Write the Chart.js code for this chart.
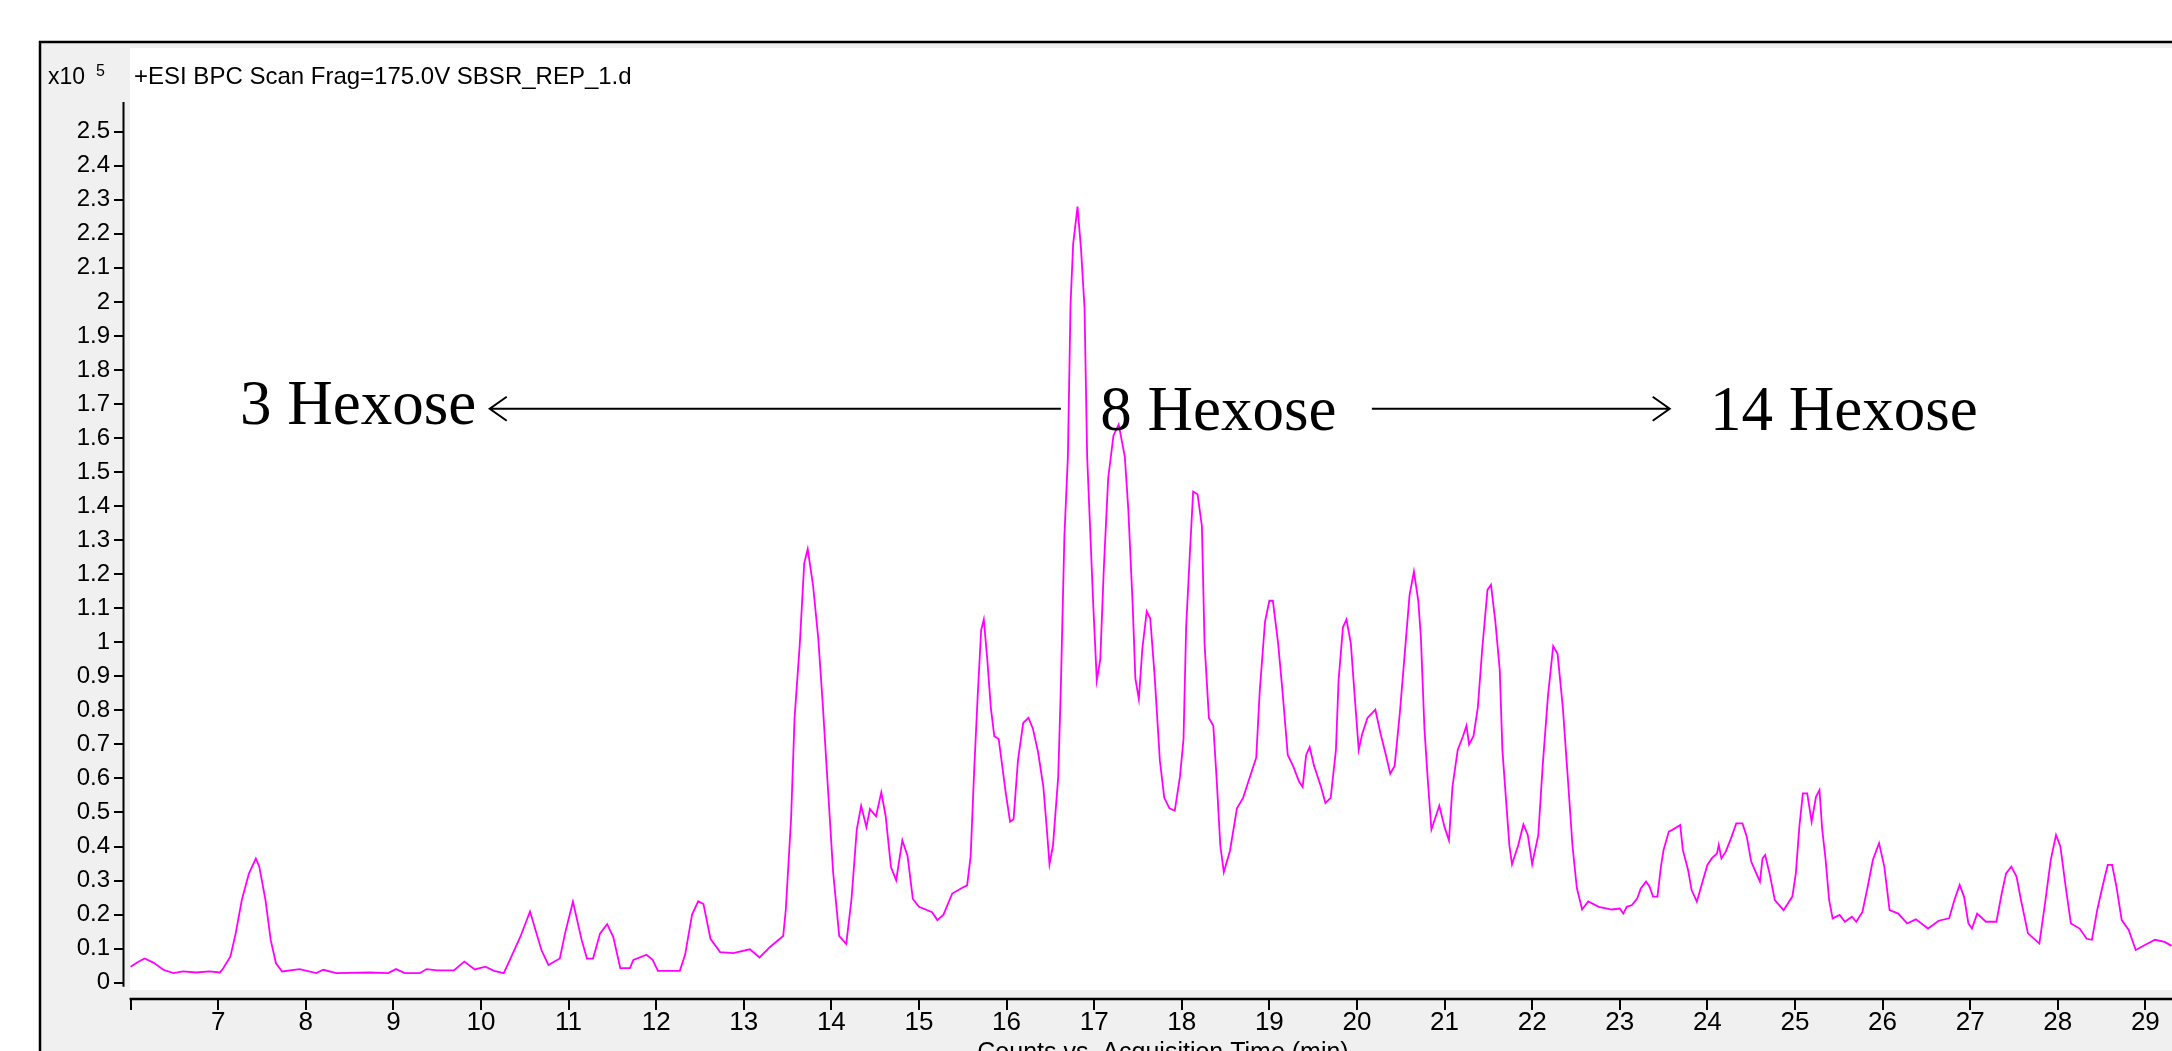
<!DOCTYPE html>
<html>
<head>
<meta charset="utf-8">
<title>BPC chromatogram</title>
<script src="https://cdn.jsdelivr.net/npm/chart.js@4.4.1/dist/chart.umd.min.js"></script>
<style>
  html, body { margin: 0; padding: 0; background: #ffffff; overflow: hidden; }
  canvas { display: block; }
</style>
</head>
<body>
<canvas id="bpcChart" width="2172" height="1051" style="width:2172px;height:1051px"></canvas>
<script>
// Retention time (min) and base peak intensity (x10^5 counts)
const retentionTime = [
  6.00, 6.08, 6.16, 6.26, 6.375, 6.49, 6.60, 6.75, 6.90, 7.02,
  7.06, 7.14, 7.20, 7.27, 7.35, 7.43, 7.47, 7.54, 7.60, 7.66,
  7.73, 7.93, 8.12, 8.20, 8.35, 8.73, 8.94, 9.03, 9.13, 9.30,
  9.38, 9.50, 9.69, 9.81, 9.93, 10.05, 10.15, 10.26, 10.33, 10.45,
  10.56, 10.69, 10.77, 10.90, 10.96, 11.05, 11.15, 11.21, 11.28, 11.36,
  11.44, 11.51, 11.59, 11.70, 11.74, 11.89, 11.96, 12.02, 12.27, 12.33,
  12.41, 12.48, 12.54, 12.62, 12.73, 12.88, 13.07, 13.18, 13.30, 13.45,
  13.48, 13.54, 13.58, 13.64, 13.69, 13.73, 13.79, 13.85, 13.90, 13.96,
  14.02, 14.09, 14.17, 14.23, 14.29, 14.34, 14.40, 14.44, 14.51, 14.57,
  14.62, 14.68, 14.74, 14.81, 14.87, 14.93, 15.00, 15.15, 15.21, 15.28,
  15.38, 15.49, 15.55, 15.59, 15.63, 15.67, 15.71, 15.74, 15.78, 15.82,
  15.86, 15.91, 15.99, 16.04, 16.08, 16.13, 16.19, 16.25, 16.30, 16.36,
  16.42, 16.46, 16.49, 16.53, 16.59, 16.62, 16.66, 16.70, 16.73, 16.76,
  16.81, 16.85, 16.89, 16.92, 16.96, 16.99, 17.03, 17.07, 17.11, 17.16,
  17.22, 17.28, 17.35, 17.39, 17.44, 17.47, 17.51, 17.55, 17.60, 17.64,
  17.69, 17.75, 17.80, 17.86, 17.92, 17.98, 18.02, 18.05, 18.09, 18.13,
  18.18, 18.23, 18.26, 18.31, 18.36, 18.40, 18.44, 18.48, 18.55, 18.63,
  18.70, 18.80, 18.85, 18.89, 18.95, 19.00, 19.04, 19.10, 19.15, 19.21,
  19.27, 19.34, 19.38, 19.42, 19.46, 19.51, 19.59, 19.64, 19.70, 19.76,
  19.79, 19.84, 19.88, 19.93, 19.97, 20.02, 20.06, 20.12, 20.21, 20.27,
  20.33, 20.38, 20.43, 20.49, 20.54, 20.60, 20.65, 20.70, 20.73, 20.77,
  20.81, 20.85, 20.89, 20.94, 21.00, 21.05, 21.09, 21.15, 21.21, 21.25,
  21.28, 21.33, 21.38, 21.43, 21.49, 21.53, 21.58, 21.63, 21.66, 21.70,
  21.74, 21.77, 21.84, 21.90, 21.95, 22.00, 22.07, 22.12, 22.18, 22.24,
  22.29, 22.35, 22.41, 22.46, 22.51, 22.57, 22.64, 22.76, 22.91, 23.00,
  23.04, 23.08, 23.14, 23.20, 23.24, 23.30, 23.34, 23.38, 23.43, 23.47,
  23.50, 23.56, 23.60, 23.69, 23.72, 23.78, 23.82, 23.88, 23.94, 24.00,
  24.05, 24.11, 24.13, 24.16, 24.21, 24.27, 24.33, 24.40, 24.45, 24.50,
  24.55, 24.60, 24.63, 24.66, 24.71, 24.77, 24.87, 24.97, 25.01, 25.05,
  25.09, 25.14, 25.19, 25.24, 25.28, 25.31, 25.35, 25.39, 25.43, 25.51,
  25.57, 25.65, 25.70, 25.77, 25.83, 25.89, 25.96, 26.02, 26.08, 26.18,
  26.28, 26.38, 26.52, 26.64, 26.76, 26.82, 26.88, 26.93, 26.98, 27.02,
  27.08, 27.18, 27.30, 27.36, 27.41, 27.47, 27.53, 27.58, 27.66, 27.79,
  27.86, 27.92, 27.98, 28.03, 28.09, 28.15, 28.25, 28.33, 28.39, 28.45,
  28.51, 28.57, 28.62, 28.67, 28.73, 28.81, 28.89, 28.99, 29.11, 29.22,
  29.30
];

const intensity = [
  0.047, 0.060, 0.071, 0.059, 0.038, 0.028, 0.033, 0.030, 0.033, 0.030,
  0.043, 0.077, 0.145, 0.243, 0.320, 0.365, 0.340, 0.243, 0.125, 0.057,
  0.033, 0.040, 0.028, 0.038, 0.028, 0.030, 0.028, 0.040, 0.028, 0.028,
  0.040, 0.036, 0.036, 0.062, 0.039, 0.047, 0.035, 0.028, 0.067, 0.135,
  0.209, 0.096, 0.052, 0.071, 0.145, 0.238, 0.125, 0.071, 0.071, 0.145,
  0.172, 0.135, 0.043, 0.043, 0.067, 0.082, 0.067, 0.035, 0.035, 0.082,
  0.200, 0.239, 0.231, 0.129, 0.090, 0.087, 0.098, 0.074, 0.105, 0.137,
  0.215, 0.481, 0.778, 0.997, 1.232, 1.274, 1.169, 1.013, 0.825, 0.575,
  0.325, 0.137, 0.114, 0.246, 0.450, 0.520, 0.457, 0.510, 0.489, 0.559,
  0.489, 0.340, 0.301, 0.418, 0.372, 0.246, 0.223, 0.207, 0.184, 0.200,
  0.262, 0.278, 0.286, 0.372, 0.622, 0.841, 1.036, 1.067, 0.950, 0.809,
  0.724, 0.716, 0.559, 0.473, 0.480, 0.653, 0.763, 0.778, 0.747, 0.677,
  0.575, 0.450, 0.348, 0.403, 0.606, 0.872, 1.310, 1.545, 1.990, 2.170,
  2.280, 2.155, 1.983, 1.545, 1.295, 1.107, 0.888, 0.950, 1.216, 1.482,
  1.607, 1.640, 1.545, 1.389, 1.107, 0.895, 0.833, 0.981, 1.091, 1.070,
  0.903, 0.653, 0.543, 0.512, 0.505, 0.606, 0.716, 1.044, 1.248, 1.443,
  1.435, 1.341, 0.997, 0.778, 0.755, 0.590, 0.403, 0.325, 0.387, 0.512,
  0.543, 0.622, 0.661, 0.856, 1.060, 1.122, 1.122, 0.997, 0.856, 0.669,
  0.637, 0.590, 0.575, 0.669, 0.692, 0.637, 0.575, 0.528, 0.543, 0.684,
  0.888, 1.044, 1.067, 0.997, 0.856, 0.684, 0.731, 0.778, 0.802, 0.731,
  0.669, 0.614, 0.637, 0.794, 0.950, 1.138, 1.208, 1.122, 1.013, 0.747,
  0.590, 0.450, 0.481, 0.520, 0.457, 0.418, 0.575, 0.684, 0.724, 0.755,
  0.700, 0.724, 0.809, 0.981, 1.154, 1.169, 1.060, 0.919, 0.684, 0.543,
  0.403, 0.348, 0.403, 0.465, 0.434, 0.348, 0.434, 0.637, 0.841, 0.989,
  0.966, 0.809, 0.590, 0.403, 0.278, 0.215, 0.239, 0.223, 0.215, 0.218,
  0.203, 0.223, 0.228, 0.248, 0.277, 0.297, 0.282, 0.253, 0.253, 0.341,
  0.390, 0.444, 0.449, 0.463, 0.390, 0.331, 0.272, 0.238, 0.292, 0.346,
  0.365, 0.380, 0.405, 0.365, 0.385, 0.424, 0.468, 0.468, 0.429, 0.356,
  0.326, 0.297, 0.365, 0.375, 0.321, 0.243, 0.213, 0.253, 0.321, 0.458,
  0.556, 0.556, 0.473, 0.546, 0.566, 0.453, 0.361, 0.243, 0.189, 0.199,
  0.179, 0.194, 0.179, 0.208, 0.282, 0.361, 0.410, 0.341, 0.213, 0.203,
  0.174, 0.186, 0.159, 0.182, 0.189, 0.243, 0.287, 0.253, 0.174, 0.159,
  0.203, 0.179, 0.179, 0.262, 0.321, 0.341, 0.311, 0.243, 0.145, 0.115,
  0.243, 0.361, 0.434, 0.400, 0.282, 0.174, 0.159, 0.129, 0.126, 0.213,
  0.282, 0.346, 0.346, 0.282, 0.184, 0.155, 0.096, 0.110, 0.126, 0.120,
  0.108
];

const xTickValues = [6, 7, 8, 9, 10, 11, 12, 13, 14, 15, 16, 17, 18, 19, 20, 21, 22, 23, 24, 25, 26, 27, 28, 29];
const xTickLabels = ['', '7', '8', '9', '10', '11', '12', '13', '14', '15', '16', '17', '18', '19', '20', '21', '22', '23', '24', '25', '26', '27', '28', '29'];
const yTickValues = [0, 0.1, 0.2, 0.3, 0.4, 0.5, 0.6, 0.7, 0.8, 0.9, 1, 1.1, 1.2, 1.3, 1.4, 1.5, 1.6, 1.7, 1.8, 1.9, 2, 2.1, 2.2, 2.3, 2.4, 2.5];
const yTickLabels = ['0', '0.1', '0.2', '0.3', '0.4', '0.5', '0.6', '0.7', '0.8', '0.9', '1', '1.1', '1.2', '1.3', '1.4', '1.5', '1.6', '1.7', '1.8', '1.9', '2', '2.1', '2.2', '2.3', '2.4', '2.5'];

// Hexose annotations, anchored in data units (time, intensity)
const hexoseLabels = ['3 Hexose', '8 Hexose', '14 Hexose'];
const hexoseLabelTime = [7.25, 17.07, 24.03];
const hexoseLabelLevel = [1.641, 1.624, 1.624];
const arrowFrom = [16.62, 20.17];
const arrowTo = [10.10, 23.57];
const arrowLevel = 1.686;

const traceTitle = '+ESI BPC Scan Frag=175.0V SBSR_REP_1.d';
const xAxisTitle = 'Counts vs. Acquisition Time (min)';

const sansFont = '"Liberation Sans", Arial, sans-serif';
const serifFont = '"Liberation Serif", "Times New Roman", serif';

// Window frame, grey panel and white plot field behind the trace
const panelPlugin = {
  id: 'panel',
  beforeDraw(chart) {
    const ctx = chart.ctx;
    const x = chart.scales.x;
    ctx.save();
    ctx.fillStyle = '#ffffff';
    ctx.fillRect(0, 0, chart.width, chart.height);
    ctx.fillStyle = '#f0f0f0';
    ctx.fillRect(40, 42, chart.width - 40, chart.height - 42);
    ctx.strokeStyle = '#000000';
    ctx.lineWidth = 2.5;
    ctx.beginPath();
    ctx.moveTo(40, chart.height);
    ctx.lineTo(40, 42);
    ctx.lineTo(chart.width, 42);
    ctx.stroke();
    const left = x.getPixelForValue(6) - 0.5;
    const bottom = chart.chartArea.bottom - 9;
    ctx.fillStyle = '#ffffff';
    ctx.fillRect(left, chart.chartArea.top, chart.chartArea.right - left, bottom - chart.chartArea.top);
    ctx.restore();
  },
  afterDraw(chart) {
    const ctx = chart.ctx;
    const x = chart.scales.x;
    const y = chart.scales.y;
    const area = chart.chartArea;
    ctx.save();

    // axis lines
    ctx.strokeStyle = '#000000';
    ctx.lineWidth = 2;
    ctx.beginPath();
    ctx.moveTo(area.left - 0.5, 102);
    ctx.lineTo(area.left - 0.5, y.getPixelForValue(0) + 4);
    ctx.stroke();
    ctx.lineWidth = 2.5;
    ctx.beginPath();
    ctx.moveTo(x.getPixelForValue(6) - 1, area.bottom);
    ctx.lineTo(area.right, area.bottom);
    ctx.stroke();

    // exponent and trace title
    ctx.fillStyle = '#000000';
    ctx.textBaseline = 'alphabetic';
    ctx.textAlign = 'left';
    ctx.font = '23px ' + sansFont;
    ctx.fillText('x10', 48, 84);
    ctx.font = '16px ' + sansFont;
    ctx.fillText('5', 96, 76);
    ctx.font = '24px ' + sansFont;
    ctx.fillText(traceTitle, 134, 84);

    // x axis title, cut by the window edge
    ctx.font = '25px ' + sansFont;
    ctx.textAlign = 'center';
    ctx.fillText(xAxisTitle, 1163, 1060);

    // hexose labels
    ctx.font = '63px ' + serifFont;
    ctx.textAlign = 'left';
    hexoseLabels.forEach((label, i) => {
      ctx.fillText(label, x.getPixelForValue(hexoseLabelTime[i]), y.getPixelForValue(hexoseLabelLevel[i]));
    });

    // arrows
    ctx.lineWidth = 2;
    const ay = y.getPixelForValue(arrowLevel);
    arrowFrom.forEach((from, i) => {
      const x0 = x.getPixelForValue(from);
      const x1 = x.getPixelForValue(arrowTo[i]);
      const dir = x1 > x0 ? 1 : -1;
      ctx.beginPath();
      ctx.moveTo(x0, ay);
      ctx.lineTo(x1, ay);
      ctx.moveTo(x1 - dir * 17, ay - 12);
      ctx.lineTo(x1, ay);
      ctx.lineTo(x1 - dir * 17, ay + 12);
      ctx.stroke();
    });
    ctx.restore();
  }
};

const points = retentionTime.map((t, i) => ({ x: t, y: intensity[i] }));

new Chart(document.getElementById('bpcChart'), {
  type: 'line',
  data: {
    datasets: [{
      data: points,
      borderColor: '#ff00ff',
      borderWidth: 1.8,
      pointRadius: 0,
      tension: 0,
      fill: false
    }]
  },
  options: {
    responsive: false,
    animation: false,
    devicePixelRatio: 1,
    layout: { padding: { left: 0, top: 48, right: 0, bottom: 0 } },
    plugins: {
      legend: { display: false },
      tooltip: { enabled: false },
      title: { display: false }
    },
    scales: {
      x: {
        type: 'linear',
        min: 5.925,
        max: 29.304,
        afterFit(scale) { scale.height = 52; },
        afterBuildTicks(scale) { scale.ticks = xTickValues.map(v => ({ value: v })); },
        border: { display: false },
        grid: {
          drawOnChartArea: false,
          drawTicks: true,
          tickLength: 11,
          color: '#000000',
          lineWidth: 2
        },
        ticks: {
          autoSkip: false,
          maxRotation: 0,
          padding: 0,
          color: '#000000',
          font: { family: sansFont, size: 26, lineHeight: 1 },
          callback: (value, index) => xTickLabels[index]
        }
      },
      y: {
        type: 'linear',
        min: -0.0479,
        max: 2.7459,
        afterFit(scale) { scale.width = 124; },
        afterBuildTicks(scale) { scale.ticks = yTickValues.map(v => ({ value: v })); },
        border: { display: false },
        grid: {
          drawOnChartArea: false,
          drawTicks: true,
          tickLength: 10,
          color: '#000000',
          lineWidth: 2
        },
        ticks: {
          autoSkip: false,
          padding: 4,
          color: '#000000',
          font: { family: sansFont, size: 24 },
          callback: (value, index) => yTickLabels[index]
        }
      }
    }
  },
  plugins: [panelPlugin]
});
</script>
</body>
</html>
